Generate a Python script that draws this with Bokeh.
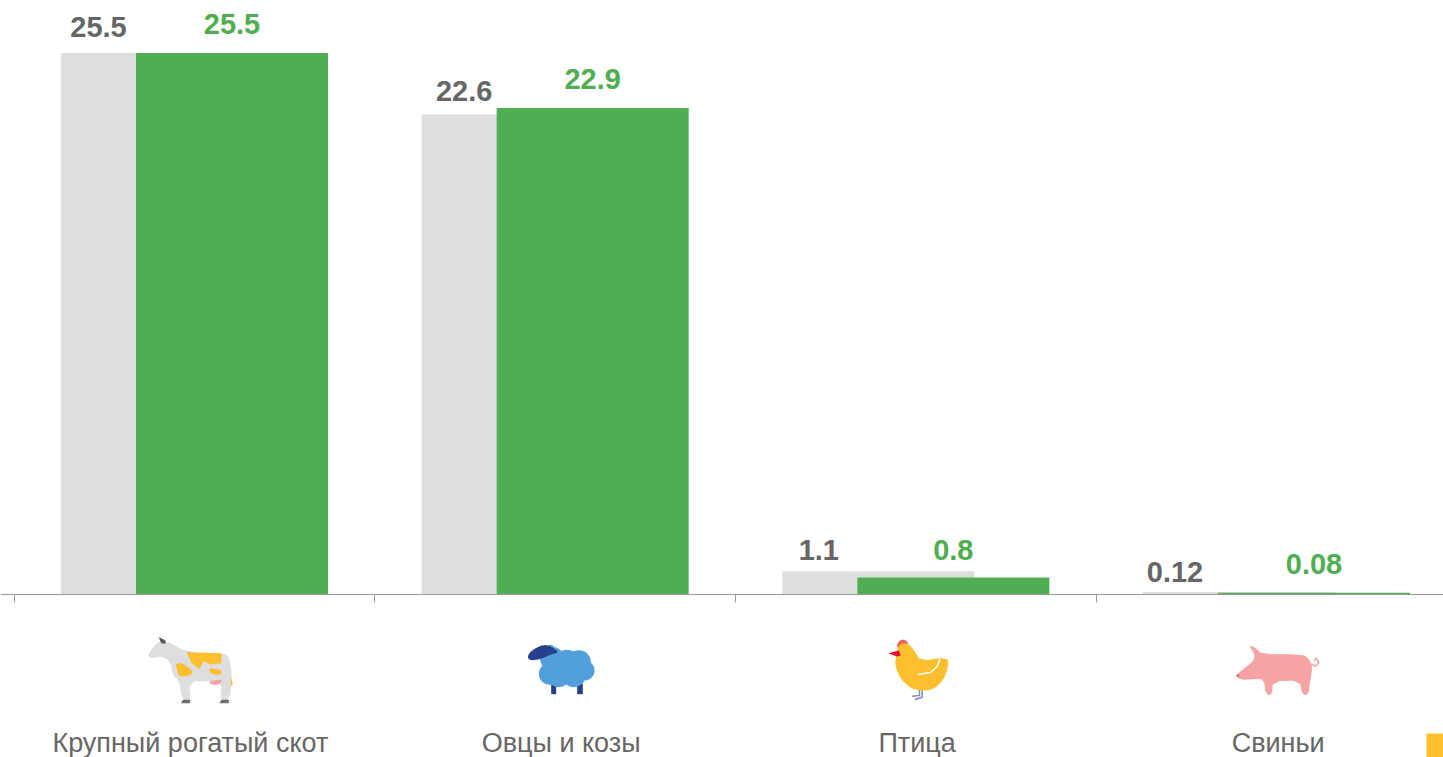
import numpy as np
from bokeh.plotting import figure
from bokeh.models import ColumnDataSource, Range1d, LinearAxis, FixedTicker
from bokeh.core.properties import value
from bokeh.embed import file_html
from bokeh.resources import INLINE

categories = ["Крупный рогатый скот", "Овцы и козы", "Птица", "Свиньи"]
series_grey = [25.5, 22.6, 1.1, 0.12]
series_green = [25.5, 22.9, 0.8, 0.08]
grey_labels = ["25.5", "22.6", "1.1", "0.12"]
green_labels = ["25.5", "22.9", "0.8", "0.08"]

W, H = 1443, 757
PAGE_L, PAGE_T = 0, 0
TICK0, TICK_STEP = 13.5, 360.67
BASE, PX_UNIT = 594.0, 21.24
GREY, GREEN, TXT = "#dedede", "#50ae52", "#666666"
YEL = "#fdbf2d"

def xd(px): return (px - TICK0) / TICK_STEP
def yd(py): return (BASE - py) / PX_UNIT

p = figure(width=W, height=H, output_backend="svg", toolbar_location=None,
           x_range=Range1d(xd(PAGE_L), xd(PAGE_L + W)),
           y_range=Range1d(yd(PAGE_T + H), yd(PAGE_T)),
           x_axis_type=None, y_axis_type=None, min_border=0)
p.outline_line_color = None
p.grid.visible = False
p.background_fill_color = "white"
p.extra_x_ranges["px"] = Range1d(PAGE_L, PAGE_L + W)
p.extra_y_ranges["px"] = Range1d(PAGE_T + H, PAGE_T)

idx = np.arange(len(categories), dtype=float)
bw = 192 / TICK_STEP
grey_c = idx + 143 / TICK_STEP
green_c = idx + 218 / TICK_STEP
p.vbar(x=grey_c, width=bw, bottom=0, top=series_grey, fill_color=GREY, line_color=None)
p.vbar(x=green_c, width=bw, bottom=0, top=series_green, fill_color=GREEN, line_color=None)

axis = LinearAxis(fixed_location=0, ticker=FixedTicker(ticks=[0, 1, 2, 3]),
                  major_label_text_font_size="0px", major_label_text_color=None,
                  axis_line_color="#999999", major_tick_line_color="#999999",
                  major_tick_in=0, major_tick_out=8, minor_tick_line_color=None)
p.add_layout(axis, "below")

font = value("Liberation Sans")
grey_gap = [26, 23, 21, 20]
green_gap = [29, 29, 28, 29]
grey_shift = [84.5, 89.5, 83.5, 79.0]
p.text(x=idx + np.array(grey_shift) / TICK_STEP, y=series_grey, text=grey_labels, text_font=font,
       text_font_size="29px", text_font_style="bold", text_color=TXT, text_align="center",
       text_baseline="alphabetic", y_offset=[-g for g in grey_gap])
p.text(x=green_c, y=series_green, text=green_labels, text_font=font, text_font_size="29px",
       text_font_style="bold", text_color=GREEN, text_align="center", text_baseline="alphabetic",
       y_offset=[-g for g in green_gap])

label_x = [0.489, 1.517, 2.504, 3.505]
p.text(x=label_x, y=[yd(742)] * 4, text=categories, text_font=font, text_font_size="27px",
       text_color=TXT, text_align="center", text_baseline="alphabetic")

def chaikin(pts, n=2):
    a = np.array(pts, float)
    for _ in range(n):
        b = np.roll(a, -1, axis=0)
        a = np.column_stack([0.75 * a + 0.25 * b, 0.25 * a + 0.75 * b]).reshape(-1, 2)
    return a

def shape(pts, ox, oy, color, smooth=1):
    a = chaikin(pts, smooth) if smooth else np.array(pts, float)
    p.patch(ox + a[:, 0] / 3, oy + a[:, 1] / 3, fill_color=color, line_color=None,
            x_range_name="px", y_range_name="px")

def stroke(pts, ox, oy, color, w):
    a = np.array(pts, float)
    p.line(ox + a[:, 0] / 3, oy + a[:, 1] / 3, line_color=color, line_width=w,
           x_range_name="px", y_range_name="px")

def disc(cx, cy, r, ox, oy, color):
    t = np.linspace(0, 2 * np.pi, 40)
    p.patch(ox + (cx + r * np.cos(t)) / 3, oy + (cy + r * np.sin(t)) / 3, fill_color=color, line_color=None,
            x_range_name="px", y_range_name="px")

# cow
ox, oy = 120, 620
shape([(82, 100), (115, 60), (145, 65), (200, 95), (308, 98), (327, 110), (335, 170), (327, 240), (300, 240),
       (304, 185), (270, 182), (205, 182), (212, 240), (185, 240), (176, 178), (158, 168), (150, 124), (125, 107),
       (88, 114)], ox, oy, "#dedede")
shape([(198, 95), (304, 98), (302, 128), (270, 132), (250, 122), (236, 146), (214, 128)], ox, oy, YEL, 0)
shape([(165, 128), (187, 128), (215, 150), (215, 163), (178, 170), (170, 150)], ox, oy, YEL)
shape([(266, 142), (288, 146), (302, 148), (302, 163), (285, 163), (268, 157)], ox, oy, YEL)
shape([(265, 182), (303, 176), (303, 187), (285, 195), (270, 190)], ox, oy, "#f5a3a5")
shape([(330, 165), (337, 190), (332, 198)], ox, oy, YEL, 0)
shape([(187, 238), (210, 238), (208, 248), (182, 248)], ox, oy, "#6d6e71", 0)
shape([(302, 238), (325, 238), (325, 248), (297, 248)], ox, oy, "#6d6e71", 0)
shape([(115, 50), (125, 55), (135, 60), (135, 70), (122, 68)], ox, oy, "#58595b", 0)

# sheep
ox, oy = 510, 630
BL, DB = "#519fdb", "#27408b"
shape([(122, 160), (137, 160), (137, 191), (122, 191)], ox, oy, DB, 0)
shape([(200, 160), (217, 160), (217, 191), (200, 191)], ox, oy, DB, 0)
for cx, cy, r in [(118, 130, 33), (125, 85, 36), (170, 100, 42), (205, 95, 36), (222, 120, 30), (190, 135, 35),
                  (145, 135, 35), (120, 55, 12)]:
    disc(cx, cy, r, ox, oy, BL)
shape([(50, 78), (65, 58), (100, 42), (122, 48), (146, 66), (120, 72), (90, 86), (58, 90)], ox, oy, DB)

# chicken
ox, oy = 870, 630
stroke([(155, 177), (155, 200), (133, 207)], ox, oy, "#7a8ab8", 1.5)
stroke([(147, 177), (147, 195), (125, 197)], ox, oy, "#7a8ab8", 1.5)
shape([(76, 48), (90, 26), (110, 30), (114, 48), (90, 54)], ox, oy, "#f0635a")
a = [(76, 75), (86, 40), (112, 38), (132, 60), (150, 92), (232, 79), (233, 110), (218, 150), (192, 174), (160, 182),
     (122, 174), (92, 148), (74, 108)]
shape(a, ox, oy, YEL, 1)
shape([(53, 68), (85, 60), (91, 75), (80, 78)], ox, oy, "#e8112d", 0)
stroke([(208, 85), (200, 108), (180, 126), (142, 132)], ox, oy, "#ffffff", 1.5)

# pig
ox, oy = 1220, 635
PK = "#f5a3a5"
shape([(47, 118), (80, 92), (100, 75), (103, 58), (85, 28), (107, 38), (124, 56), (242, 56), (265, 68), (276, 95),
       (270, 130), (264, 178), (245, 178), (238, 135), (157, 137), (155, 178), (136, 178), (130, 132), (105, 130),
       (58, 134)], ox, oy, PK, 1)
disc(52, 120, 4, ox, oy, "#e0505a")
stroke([(272, 85), (285, 92), (295, 82), (288, 68), (280, 75)], ox, oy, PK, 1.5)

# corner square
shape([(1426 * 3, 733 * 3), (1443 * 3, 733 * 3), (1443 * 3, 757 * 3), (1426 * 3, 757 * 3)], 0, 0, YEL, 0)

open("out.html", "w").write(file_html(p, INLINE))
